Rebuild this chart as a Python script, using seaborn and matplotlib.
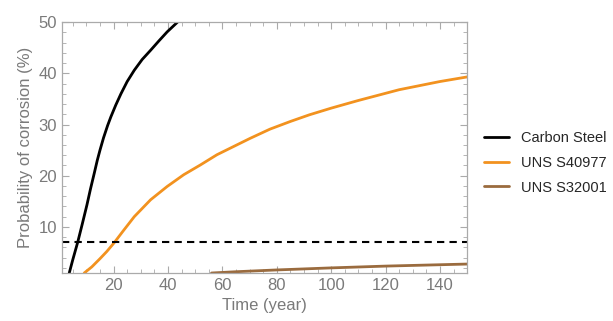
import numpy as np
import pandas as pd
import matplotlib
matplotlib.use("Agg")
import matplotlib.pyplot as plt
from matplotlib.ticker import MultipleLocator
import seaborn as sns

# Data
cs_years = [3.7, 5, 6.8, 8.5, 10.2, 11.5, 12.9, 14, 15, 16.3, 17.8, 19, 20.8, 22.7, 25,
            27.6, 30.5, 33.6, 36.6, 39.7, 43.5]
cs_prob = [1, 3.6, 7, 10.6, 14.3, 17.4, 20.5, 23.0, 25.0, 27.4, 29.8, 31.5, 33.8, 36.0, 38.4,
           40.6, 42.7, 44.5, 46.3, 48.1, 50]

s40977_years = [9.2, 12, 15, 17.5, 20.2, 23.5, 27.6, 33.6, 39.7, 45.8, 51.9, 58, 64.1,
                70.2, 77.5, 85, 92, 100, 110, 125, 140, 150]
s40977_prob = [1, 2.2, 3.8, 5.2, 6.9, 9.2, 12.0, 15.3, 17.9, 20.2, 22.1, 24.1, 25.7,
               27.3, 29.1, 30.6, 31.9, 33.2, 34.7, 36.8, 38.4, 39.3]

s32001_years = [56, 65, 80, 100, 120, 135, 150]
s32001_prob = [1.0, 1.25, 1.6, 2.0, 2.35, 2.55, 2.75]

threshold = 7
series_names = ["Carbon Steel", "UNS S40977", "UNS S32001"]
x_ticks = [20, 40, 60, 80, 100, 120, 140]
y_ticks = [10, 20, 30, 40, 50]

df = pd.concat([
    pd.DataFrame({"Time": cs_years, "Prob": cs_prob, "Material": series_names[0]}),
    pd.DataFrame({"Time": s40977_years, "Prob": s40977_prob, "Material": series_names[1]}),
    pd.DataFrame({"Time": s32001_years, "Prob": s32001_prob, "Material": series_names[2]}),
])

sns.set_style("ticks")
plt.rcParams["font.family"] = ["Liberation Sans", "DejaVu Sans"]

fig = plt.figure(figsize=(6.13, 3.21), dpi=100)
ax = fig.add_axes([0.101, 0.1495, 0.661, 0.7815])

palette = {series_names[0]: "#000000", series_names[1]: "#F2921F", series_names[2]: "#9A6B3E"}
sns.lineplot(data=df, x="Time", y="Prob", hue="Material", palette=palette,
             ax=ax, linewidth=2.0, sort=False, estimator=None)
for ln in ax.get_lines():
    ln.set_solid_joinstyle("round")
    ln.set_solid_capstyle("round")

ax.axhline(threshold, color="black", linestyle=(0, (3.5, 2.5)), linewidth=1.5)

ax.set_xlim(1, 150)
ax.set_ylim(1, 50)
ax.set_xticks(x_ticks)
ax.set_yticks(y_ticks)
ax.xaxis.set_minor_locator(MultipleLocator(5))
ax.yaxis.set_minor_locator(MultipleLocator(2))

gray = "#7a7a7a"
for s in ax.spines.values():
    s.set_visible(True)
    s.set_color("#aaaaaa")
    s.set_linewidth(0.9)
ax.tick_params(which="both", direction="in", top=True, right=True, color="#aaaaaa",
               labelcolor=gray, labelsize=12)
ax.tick_params(which="major", length=5, width=0.8)
ax.tick_params(which="minor", length=3, width=0.6)

ax.set_xlabel("Time (year)", color=gray, fontsize=12, labelpad=4)
ax.set_ylabel("Probability of corrosion (%)", color=gray, fontsize=12, labelpad=4)

leg = ax.legend(loc="center left", bbox_to_anchor=(1.01, 0.44), frameon=False,
                fontsize=10.5, handlelength=1.7, handletextpad=0.8, labelspacing=0.75)
for line in leg.get_lines():
    line.set_linewidth(2.0)

fig.savefig("out.png", dpi=100)
